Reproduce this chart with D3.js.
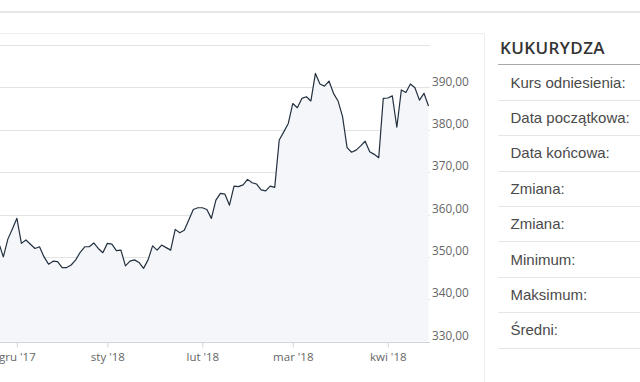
<!DOCTYPE html>
<html>
<head>
<meta charset="utf-8">
<script src="https://cdn.jsdelivr.net/npm/d3@7"></script>
<style>
  html, body { margin: 0; padding: 0; background: #fff; }
  svg { display: block; }
</style>
</head>
<body>
<svg id="chart" width="640" height="382"></svg>
<script>
// ---- data ----
const values = [
  353.3, 350.0, 354.2, 356.6, 359.1, 353.2, 354.0, 353.0, 352.0, 352.4,
  350.0, 348.3, 349.0, 348.9, 347.5, 347.5, 348.1, 349.3, 351.1, 352.4,
  352.4, 353.3, 352.0, 351.0, 353.2, 353.0, 351.5, 351.6, 347.9, 349.0,
  349.3, 348.7, 347.3, 349.3, 352.6, 351.6, 352.8, 352.2, 351.6, 356.5,
  355.7, 356.3, 358.7, 361.2, 361.6, 361.6, 361.2, 359.1, 363.4, 365.0,
  364.8, 362.2, 366.7, 366.6, 367.0, 368.3, 367.5, 367.2, 365.8, 365.6,
  366.7, 366.4, 377.6, 379.5, 381.5, 386.2, 385.2, 387.4, 387.8, 386.8,
  393.3, 390.8, 390.3, 391.5, 388.6, 386.8, 383.1, 375.8, 374.7, 375.2,
  376.2, 377.3, 374.8, 374.2, 373.4, 387.4, 387.5, 388.0, 380.6, 389.4,
  388.8, 390.8, 389.9, 387.0, 388.6, 385.6
];
const monthLabels = ["gru '17", "sty '18", "lut '18", "mar '18", "kwi '18"];
const monthTickIndex = [4, 24, 45, 65, 86];
const yGridValues = [330, 340, 350, 360, 370, 380, 390, 400];
const yLabelValues = [330, 340, 350, 360, 370, 380, 390];
const panelTitle = "KUKURYDZA";
const panelRows = ["Kurs odniesienia:", "Data początkowa:", "Data końcowa:", "Zmiana:", "Zmiana:", "Minimum:", "Maksimum:", "Średni:"];

// ---- drawing ----
const svg = d3.select("#chart");
const W = 640, H = 382;

// page chrome
svg.append("rect").attr("x", 0).attr("y", 11).attr("width", W).attr("height", 2).attr("fill", "#e8e8e8");
svg.append("line").attr("x1", 0).attr("x2", 484.5).attr("y1", 33.5).attr("y2", 33.5).attr("stroke", "#efefef");
svg.append("line").attr("x1", 484.5).attr("x2", 484.5).attr("y1", 33.5).attr("y2", H).attr("stroke", "#efefef");

const plot = { left: -1.2, right: 428.5, top: 45, bottom: 341.7, edge: 430 };

const x = d3.scaleLinear().domain([0, values.length - 1]).range([plot.left, plot.right]);
const y = d3.scaleLinear().domain([330, 400]).range([plot.bottom, plot.top]);

// gridlines
svg.append("g").selectAll("line").data(yGridValues).join("line")
  .attr("x1", 0).attr("x2", plot.edge)
  .attr("y1", d => Math.round(y(d)) + 0.5).attr("y2", d => Math.round(y(d)) + 0.5)
  .attr("stroke", "#e3e3e3").attr("stroke-width", 1);

// area + line
svg.append("defs").append("clipPath").attr("id", "clip")
  .append("rect").attr("x", 0).attr("y", 0).attr("width", plot.edge).attr("height", plot.bottom);

const area = d3.area().x((d, i) => x(i)).y0(plot.bottom).y1(d => y(d));
const line = d3.line().x((d, i) => x(i)).y(d => y(d));

svg.append("path").datum(values).attr("d", area)
  .attr("fill", "#f4f6f9").attr("clip-path", "url(#clip)");
svg.append("path").datum(values).attr("d", line)
  .attr("fill", "none").attr("stroke", "#23303f").attr("stroke-width", 1.2)
  .attr("stroke-linejoin", "round").attr("clip-path", "url(#clip)");

// x axis
const xAxis = d3.axisBottom(x)
  .tickValues(monthTickIndex)
  .tickFormat((d, i) => monthLabels[i])
  .tickSize(5).tickSizeOuter(0).tickPadding(5);
const gx = svg.append("g").attr("transform", `translate(0,${Math.round(plot.bottom) + 0.5})`).call(xAxis);
gx.select(".domain").remove();
gx.selectAll(".tick line").attr("stroke", "#cfd3d9");
gx.selectAll(".tick text").attr("fill", "#666").attr("font-family", "'Open Sans', sans-serif").attr("font-size", "11.5px");
gx.append("line").attr("x1", 0).attr("x2", plot.edge).attr("y1", 0).attr("y2", 0).attr("stroke", "#cfd3d9");

// y labels (right)
const fmt = v => d3.format(".2f")(v).replace(".", ",");
const yAxis = d3.axisRight(y).tickValues(yLabelValues).tickFormat(fmt).tickSize(0).tickPadding(0);
const gy = svg.append("g").attr("transform", `translate(432,0)`).call(yAxis);
gy.select(".domain").remove();
gy.selectAll(".tick text").attr("fill", "#666").attr("font-family", "'Open Sans', sans-serif")
  .attr("font-size", "11.8px").attr("dy", "-0.2em");

// right panel
svg.append("text").attr("x", 500).attr("y", 53.5).text(panelTitle)
  .attr("font-family", "'Open Sans', sans-serif").attr("font-weight", 600)
  .attr("font-size", "17px").attr("letter-spacing", "0.4px").attr("fill", "#333");
svg.append("line").attr("x1", 498).attr("x2", W).attr("y1", 64.5).attr("y2", 64.5).attr("stroke", "#a8a8a8");

const rowY = d3.scaleLinear().domain([0, panelRows.length]).range([64.5, 347.5]);
svg.append("g").selectAll("line").data(d3.range(1, panelRows.length + 1)).join("line")
  .attr("x1", 498).attr("x2", W)
  .attr("y1", d => Math.round(rowY(d)) + 0.5).attr("y2", d => Math.round(rowY(d)) + 0.5)
  .attr("stroke", "#e6e6e6");
svg.append("g").selectAll("text").data(panelRows).join("text")
  .attr("x", 510.5)
  .attr("y", (d, i) => (rowY(i) + rowY(i + 1)) / 2 + 5.5)
  .text(d => d)
  .attr("font-family", "'Liberation Sans', Arial, sans-serif")
  .attr("font-size", "15px").attr("fill", "#4a4a4a");
</script>
</body>
</html>
